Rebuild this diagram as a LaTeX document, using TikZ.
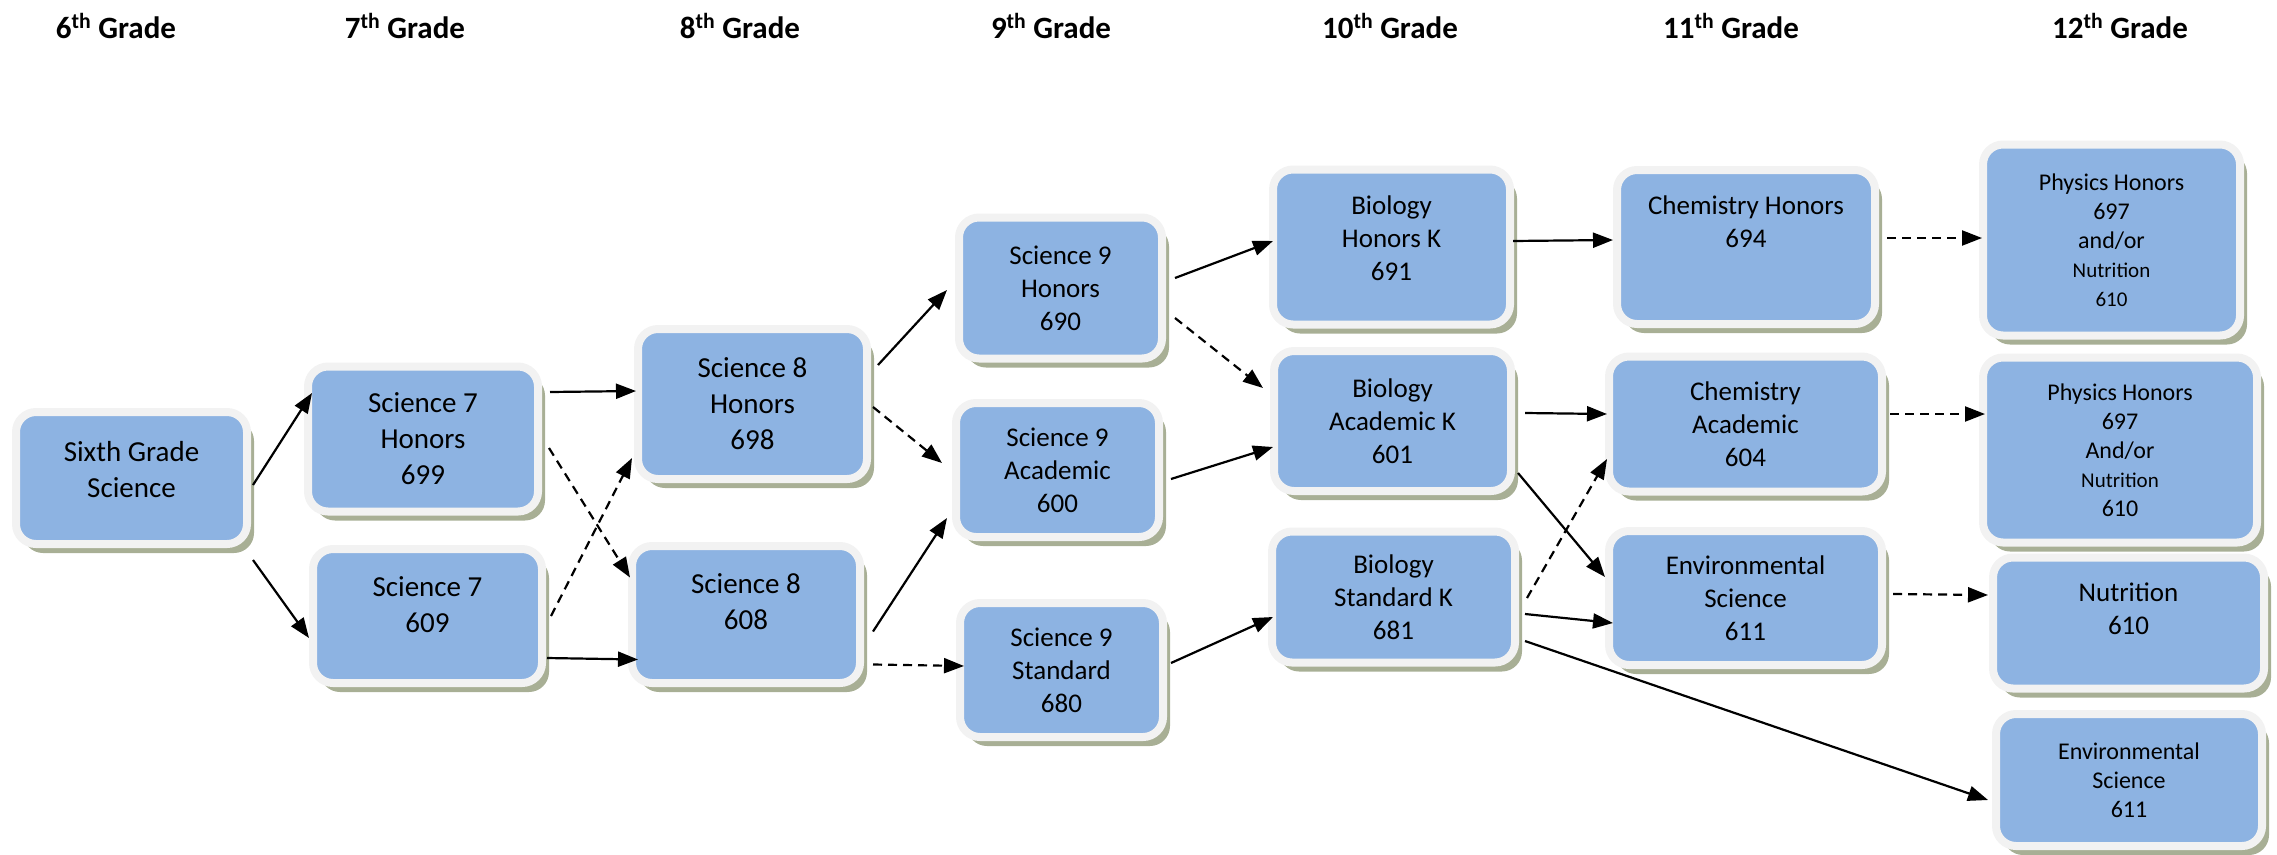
\documentclass[tikz,border=0pt]{standalone}
\usepackage{fontspec}
\setmainfont{Carlito}
\usetikzlibrary{arrows.meta,shadows}
\definecolor{cellblue}{HTML}{8DB3E2}
\definecolor{rim}{HTML}{F2F2F2}
\definecolor{shade}{HTML}{A8AF95}
\tikzset{
    cell/.style={draw=rim, line width=8pt, fill=cellblue, rounded corners=20pt,
        align=center, inner sep=0pt,
        drop shadow={shadow xshift=7pt, shadow yshift=-9pt, fill=shade, opacity=1}},
    big/.style={font=\fontsize{29}{36}\selectfont},
    mid/.style={font=\fontsize{27}{33}\selectfont},
    sml/.style={font=\fontsize{24}{29}\selectfont},
    grade/.style={font=\bfseries\fontsize{31}{37}\selectfont, anchor=base},
    link/.style={line width=2.2pt, -{Triangle[length=20pt,width=15pt]}},
    maybe/.style={link, dash pattern=on 9pt off 6pt}
}
\newcommand{\fineprint}{\fontsize{21}{26}\selectfont}

\begin{document}
\begin{tikzpicture}[x=1pt,y=-1pt]
    \useasboundingbox (0,0) rectangle (2277,854);

    % Grade headers
    \foreach \n/\x in {6/116, 7/405, 8/740, 9/1051, 10/1390, 11/1731, 12/2120} {
        \node[grade] (g\n) at (\x,38) {\n\textsuperscript{th} Grade};
    }

    % Middle school
    \node[cell, big, minimum width=231pt, minimum height=132pt] (sixth) at (131.5,478) {Sixth Grade\\Science\\[-18pt]\mbox{}};
    \node[cell, big, minimum width=230pt, minimum height=145pt] (sevenH) at (423,439) {Science 7\\Honors\\699};
    \node[cell, big, minimum width=229pt, minimum height=134pt] (seven) at (427.5,616) {Science 7\\609\\[-14pt]\mbox{}};
    \node[cell, big, minimum width=229pt, minimum height=150pt] (eightH) at (752.5,404) {Science 8\\Honors\\698};
    \node[cell, big, minimum width=228pt, minimum height=137pt] (eight) at (746,614.5) {Science 8\\608\\[-10pt]\mbox{}};

    % 9th grade
    \node[cell, mid, minimum width=203pt, minimum height=141pt] (nineH) at (1060.5,288) {Science 9\\Honors\\690};
    \node[cell, mid, minimum width=203pt, minimum height=134pt] (nineA) at (1057.5,470) {Science 9\\Academic\\600};
    \node[cell, mid, minimum width=203pt, minimum height=134pt] (nineS) at (1061.5,670) {Science 9\\Standard\\680};

    % 10th grade
    \node[cell, mid, minimum width=237pt, minimum height=155pt] (bioH) at (1391.5,247) {Biology\\Honors K\\691\\[-15pt]\mbox{}};
    \node[cell, mid, minimum width=237pt, minimum height=140pt] (bioA) at (1392.5,421) {Biology\\Academic K\\601};
    \node[cell, mid, minimum width=243pt, minimum height=131pt] (bioS) at (1393.5,597) {Biology\\Standard K\\681};

    % 11th grade
    \node[cell, mid, minimum width=258pt, minimum height=154pt] (chemH) at (1746,247) {Chemistry Honors\\694\\[17pt]\mbox{}};
    \node[cell, mid, minimum width=273pt, minimum height=135pt] (chemA) at (1745.5,424) {Chemistry\\Academic\\604};
    \node[cell, mid, minimum width=273pt, minimum height=134pt] (envE) at (1745.5,598) {Environmental\\Science\\611};

    % 12th grade
    \node[cell, sml, minimum width=257pt, minimum height=191pt] (physA) at (2111.5,240) {Physics Honors\\697\\and/or\\{\fineprint Nutrition}\\{\fineprint 610}};
    \node[cell, sml, minimum width=274pt, minimum height=185pt] (physB) at (2120,450) {Physics Honors\\697\\And/or\\{\fineprint Nutrition}\\610};
    \node[cell, mid, minimum width=271pt, minimum height=131pt] (nutr) at (2128.5,623) {Nutrition\\610\\[-5pt]\mbox{}};
    \node[cell, sml, minimum width=266pt, minimum height=132pt] (envT) at (2129,780) {Environmental\\Science\\611};

    % Solid arrows
    \draw[link] ([shift={(2,7)}]sixth.east) -- ([shift={(8,-46)}]sevenH.west);
    \draw[link] ([shift={(2,82)}]sixth.east) -- ([shift={(0,22)}]seven.west);
    \draw[link] ([shift={(8,-47)}]sevenH.east) -- ([shift={(2,-13)}]eightH.west);
    \draw[link] ([shift={(1,42)}]seven.east) -- ([shift={(10,45)}]eight.west);
    \draw[link] ([shift={(7,-39)}]eightH.east) -- ([shift={(-8,2)}]nineH.west);
    \draw[link] ([shift={(9,17)}]eight.east) -- ([shift={(-5,48)}]nineA.west);
    \draw[link] ([shift={(9,-10)}]nineH.east) -- ([shift={(4,-6)}]bioH.west);
    \draw[link] ([shift={(8,9)}]nineA.east) -- ([shift={(3,26)}]bioA.west);
    \draw[link] ([shift={(4,-7)}]nineS.east) -- ([shift={(5,20)}]bioS.west);
    \draw[link] ([shift={(-1,-6)}]bioH.east) -- ([shift={(0,-7)}]chemH.west);
    \draw[link] ([shift={(10,-8)}]bioA.east) -- ([shift={(2,-10)}]chemA.west);
    \draw[link] ([shift={(3,52)}]bioA.east) -- ([shift={(0,-21)}]envE.west);
    \draw[link] ([shift={(6,17)}]bioS.east) -- ([shift={(8,25)}]envE.west);
    \draw[link] ([shift={(6,44)}]bioS.east) -- ([shift={(-4,20)}]envT.west);

    % Dashed arrows
    \draw[maybe] ([shift={(7,9)}]sevenH.east) -- ([shift={(2,-37)}]eight.west);
    \draw[maybe] ([shift={(5,0)}]seven.east) -- ([shift={(-2,54)}]eightH.west);
    \draw[maybe] ([shift={(2,3)}]eightH.east) -- ([shift={(-10,-7)}]nineA.west);
    \draw[maybe] ([shift={(9,50)}]eight.east) -- ([shift={(8,-4)}]nineS.west);
    \draw[maybe] ([shift={(9,30)}]nineH.east) -- ([shift={(-7,-33)}]bioA.west);
    \draw[maybe] ([shift={(8,1)}]bioS.east) -- ([shift={(2,35)}]chemA.west);
    \draw[maybe] ([shift={(8,-9)}]chemH.east) -- ([shift={(3,-2)}]physA.west);
    \draw[maybe] ([shift={(4,-10)}]chemA.east) -- ([shift={(6,-36)}]physB.west);
    \draw[maybe] ([shift={(7,-4)}]envE.east) -- ([shift={(-1,-28)}]nutr.west);
\end{tikzpicture}
\end{document}
